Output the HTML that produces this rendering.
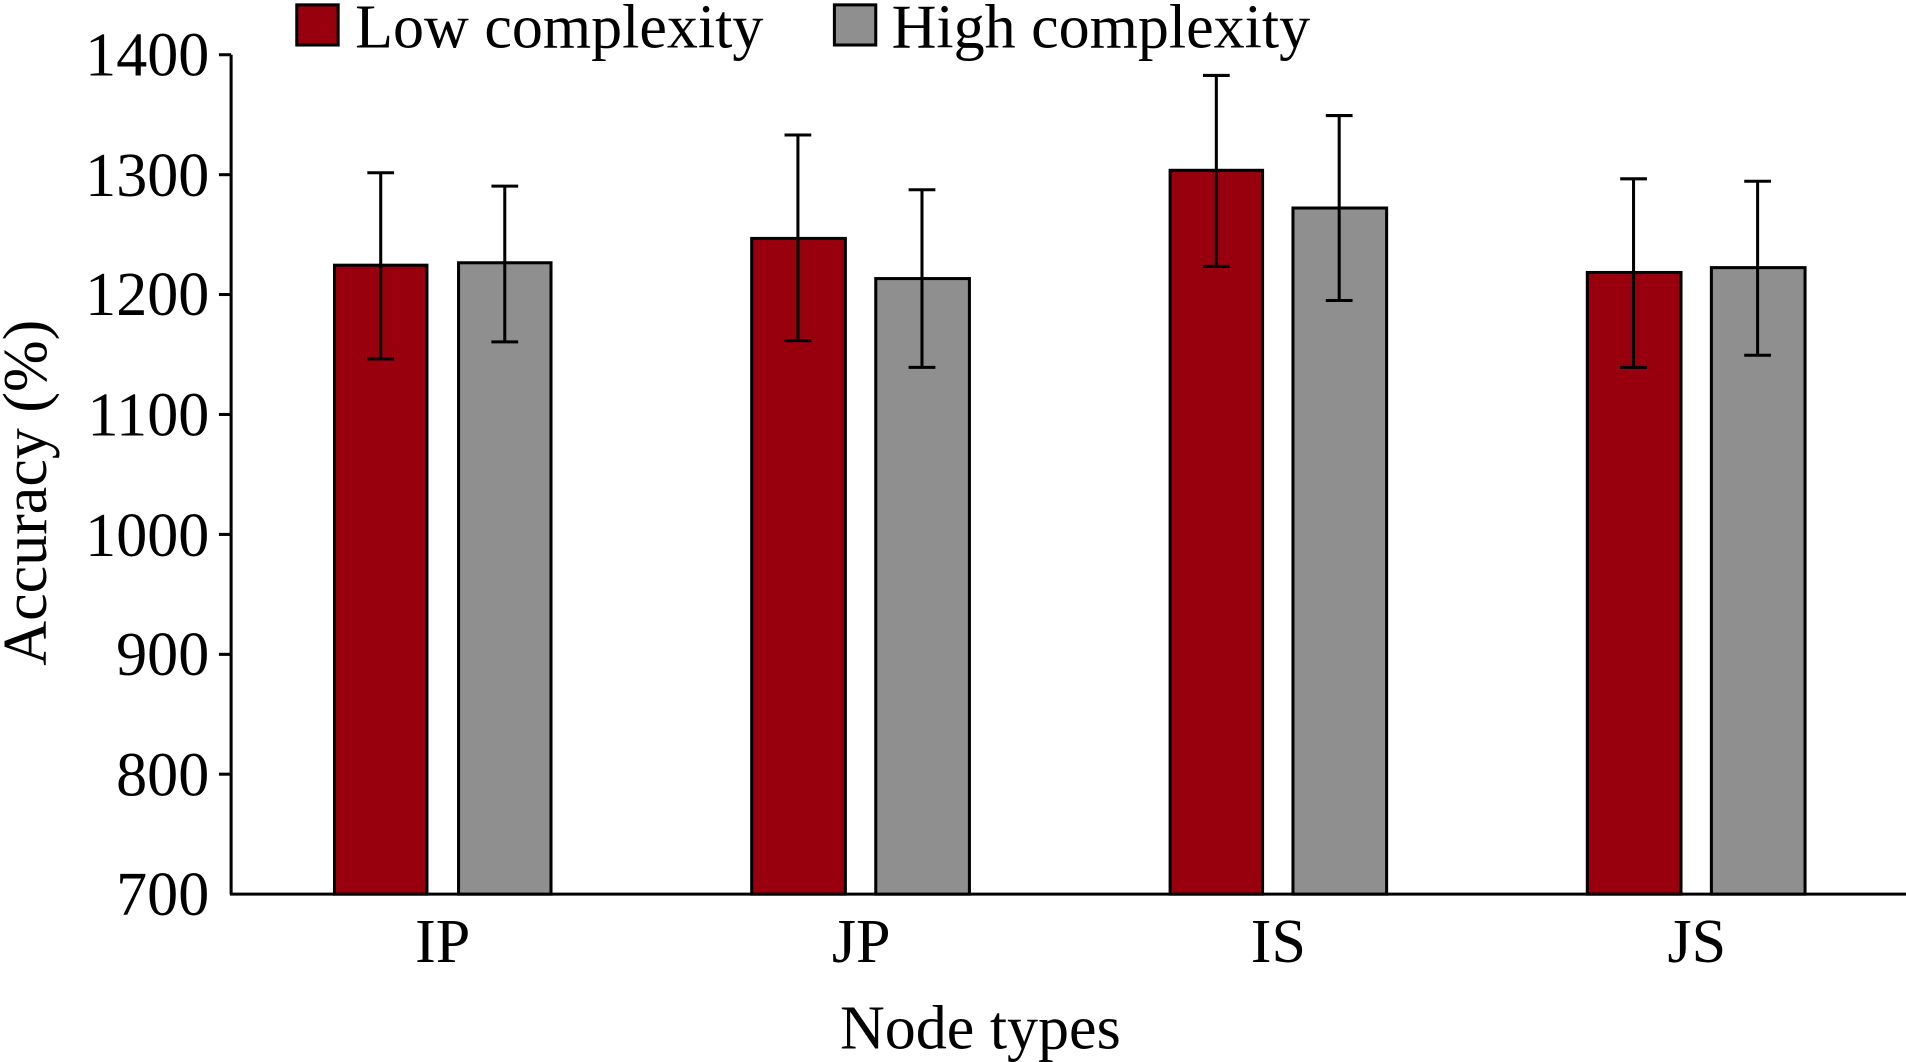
<!DOCTYPE html>
<html><head><meta charset="utf-8"><style>html,body{margin:0;padding:0;background:#fff;}svg{display:block}</style></head>
<body>
<svg width="1906" height="1062" viewBox="0 0 1567 873" preserveAspectRatio="none" xmlns="http://www.w3.org/2000/svg" font-family="Liberation Serif, serif">
<g stroke="#000" stroke-width="2.5" fill="none">
<line x1="190" y1="45" x2="190" y2="735"/>
<line x1="189" y1="735" x2="1567" y2="735"/>
<line x1="180" y1="45" x2="190" y2="45"/>
<line x1="180" y1="143.6" x2="190" y2="143.6"/>
<line x1="180" y1="242.1" x2="190" y2="242.1"/>
<line x1="180" y1="340.7" x2="190" y2="340.7"/>
<line x1="180" y1="439.3" x2="190" y2="439.3"/>
<line x1="180" y1="537.9" x2="190" y2="537.9"/>
<line x1="180" y1="636.4" x2="190" y2="636.4"/>
</g>
<g font-size="51" text-anchor="end" fill="#000">
<text x="172" y="62">1400</text>
<text x="172" y="161">1300</text>
<text x="172" y="259">1200</text>
<text x="172" y="358">1100</text>
<text x="172" y="457">1000</text>
<text x="172" y="555">900</text>
<text x="172" y="654">800</text>
<text x="172" y="752">700</text>
</g>
<g stroke="#000" stroke-width="2.5">
<rect x="275" y="218" width="76" height="517" fill="#98000e"/>
<rect x="377" y="216" width="76" height="519" fill="#8f8f8f"/>
<rect x="618" y="196" width="77" height="539" fill="#98000e"/>
<rect x="720" y="229" width="77" height="506" fill="#8f8f8f"/>
<rect x="962" y="140" width="76" height="595" fill="#98000e"/>
<rect x="1063" y="171" width="77" height="564" fill="#8f8f8f"/>
<rect x="1305" y="224" width="77" height="511" fill="#98000e"/>
<rect x="1407" y="220" width="77" height="515" fill="#8f8f8f"/>
</g>
<g stroke="#000" stroke-width="2.5" fill="none">
<path d="M313 142V295M302 142H324M302 295H324"/>
<path d="M415 153V281M404 153H426M404 281H426"/>
<path d="M656 111V280M645 111H667M645 280H667"/>
<path d="M758 156V302M747 156H769M747 302H769"/>
<path d="M1000 62V219M989 62H1011M989 219H1011"/>
<path d="M1101 95V247M1090 95H1112M1090 247H1112"/>
<path d="M1343 147V302M1332 147H1354M1332 302H1354"/>
<path d="M1445 149V292M1434 149H1456M1434 292H1456"/>
</g>
<g font-size="51" text-anchor="middle" fill="#000">
<text x="364" y="791">IP</text>
<text x="708" y="791">JP</text>
<text x="1051" y="791">IS</text>
<text x="1395" y="791">JS</text>
<text x="806" y="862">Node types</text>
<text transform="translate(38,405) rotate(-90)">Accuracy (%)</text>
</g>
<rect x="244" y="4" width="34" height="33" fill="#98000e" stroke="#000" stroke-width="2.5"/>
<text x="292" y="39" font-size="51">Low complexity</text>
<rect x="686" y="4" width="34" height="33" fill="#8f8f8f" stroke="#000" stroke-width="2.5"/>
<text x="733" y="39" font-size="51">High complexity</text>
</svg>
</body></html>
